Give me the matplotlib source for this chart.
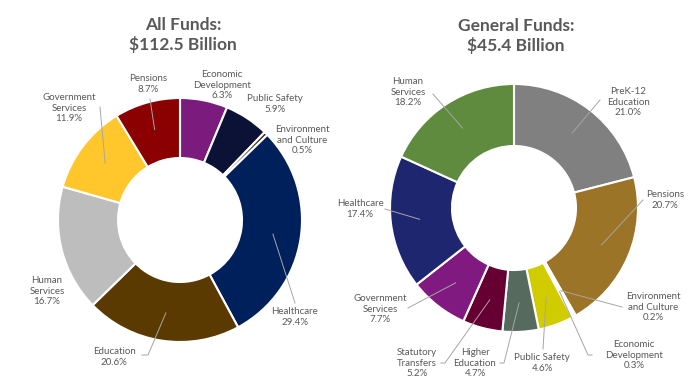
import math
import matplotlib.pyplot as plt

plt.rcParams['font.family'] = ['Lato', 'DejaVu Sans']

W, H = 700, 389

# all funds
all_names = ['Economic\nDevelopment', 'Public Safety', 'Environment\nand Culture', 'Healthcare',
             'Education', 'Human\nServices', 'Government\nServices', 'Pensions']
all_vals = [6.3, 5.9, 0.5, 29.4, 20.6, 16.7, 11.9, 8.7]
all_colors = ['#7b1b7e', '#0c1236', '#3d2b1a', '#00205b', '#5a3a00', '#bdbdbd', '#ffc72c', '#8b0000']

# general funds
gen_names = ['PreK-12\nEducation', 'Pensions', 'Environment\nand Culture', 'Economic\nDevelopment',
             'Public Safety', 'Higher\nEducation', 'Statutory\nTransfers', 'Government\nServices',
             'Healthcare', 'Human\nServices']
gen_vals = [21.0, 20.7, 0.2, 0.3, 4.6, 4.7, 5.2, 7.7, 17.4, 18.2]
gen_colors = ['#808080', '#9c7428', '#f2f2f2', '#f2f2f2', '#d1cc00', '#566b5d', '#660033',
              '#801a80', '#1f2670', '#5e8b3e']

# label layout in pixels: text centre, leader path from text side (None = no leader)
all_lbl = [(222, 85), (275, 104), (302, 140), (295, 317), (114, 357), (47, 291), (69, 108), (148, 84)]
all_lead = [None, None, None, [(295, 303)], [(142, 355), (148, 355)], None, [(100, 107)], [(150, 99)]]

gen_lbl = [(628, 102), (665, 200), (653, 307), (634, 355), (542, 363), (475, 363), (417, 363),
           (380, 309), (360, 209), (408, 92)]
gen_lead = [[(600, 100)], [(643, 200)], [(622, 307)], [(592, 355), (588, 355)], [(543, 349)],
            [(500, 363), (504, 363)], [(441, 363), (445, 363)], [(408, 308)], [(385, 209)],
            [(433, 94)]]

TXT = '#595959'
LEAD = '#a6a6a6'

fig = plt.figure(figsize=(7, 3.89), dpi=100)
ax = fig.add_axes([0, 0, 1, 1])


def Y(y):
    return H - y


def donut(vals, names, colors, cx, cy, r_out, r_in, lbls, leads):
    ax.pie(vals, colors=colors, startangle=90, counterclock=False, radius=r_out,
           center=(cx, Y(cy)), wedgeprops=dict(width=r_out - r_in, edgecolor='white', linewidth=1.5))
    total = sum(vals)
    cum = 0
    r_mid = (r_out + r_in) / 2 + 2
    for v, n, (lx, ly), lead in zip(vals, names, lbls, leads):
        mid = (cum + v / 2) / total
        cum += v
        a = math.radians(90 - 360 * mid)
        ax.text(lx, Y(ly), f'{n}\n{v:.1f}%', ha='center', va='center', fontsize=7,
                color=TXT, linespacing=1.25)
        if lead:
            pts = [(px, Y(py)) for px, py in lead]
            pts.append((cx + r_mid * math.cos(a), Y(cy) + r_mid * math.sin(a)))
            ax.plot([p[0] for p in pts], [p[1] for p in pts], color=LEAD, lw=0.7, zorder=5)


donut(all_vals, all_names, all_colors, 180, 220, 122, 62, all_lbl, all_lead)
donut(gen_vals, gen_names, gen_colors, 514, 208, 124, 62, gen_lbl, gen_lead)

ax.text(183, Y(35), 'All Funds:\n$112.5 Billion', ha='center', va='center', fontsize=12.5,
        fontweight='bold', color=TXT, linespacing=1.2)
ax.text(516, Y(36), 'General Funds:\n$45.4 Billion', ha='center', va='center', fontsize=12.5,
        fontweight='bold', color=TXT, linespacing=1.2)

ax.set_xlim(0, W)
ax.set_ylim(0, H)
ax.set_aspect('auto')
ax.axis('off')

fig.savefig('out.png', dpi=100)
